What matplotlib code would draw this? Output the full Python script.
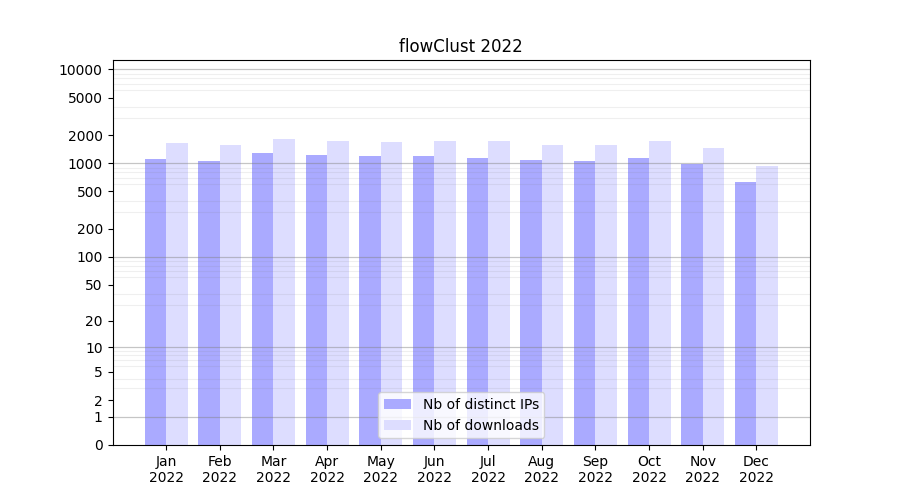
import numpy as np
import matplotlib
matplotlib.use("Agg")
import matplotlib.pyplot as plt

# ── Data ──────────────────────────────────────────────────────────────────
months = ["Jan", "Feb", "Mar", "Apr", "May", "Jun",
          "Jul", "Aug", "Sep", "Oct", "Nov", "Dec"]
year = 2022
nb_ips = [1112, 1058, 1290, 1228, 1198, 1198, 1140, 1085, 1058, 1140, 990, 629]
nb_downloads = [1653, 1574, 1824, 1737, 1694, 1737, 1737, 1574, 1574, 1737, 1460, 936]
ytick_vals = [0, 1, 2, 5, 10, 20, 50, 100, 200, 500, 1000, 2000, 5000, 10000]


def fwd(x):
    x = np.asarray(x, dtype=float)
    with np.errstate(invalid="ignore", divide="ignore"):
        return np.log10(np.clip(x, -0.999999, None) + 1)


def inv(y):
    return 10 ** np.asarray(y, dtype=float) - 1


fig, ax = plt.subplots(figsize=(9, 5), dpi=100)

x = np.arange(1, len(months) + 1)
w = 0.4
ax.bar(x - w / 2, nb_ips, width=w, color="#aaaaff", label="Nb of distinct IPs")
ax.bar(x + w / 2, nb_downloads, width=w, color="#ddddff", label="Nb of downloads")

ax.set_yscale("function", functions=(fwd, inv))
ax.set_xlim(0, 13)
ax.set_ylim(0, 10 ** 4.1 - 1)

ax.set_yticks(ytick_vals)
ax.set_yticklabels([str(v) for v in ytick_vals])
minor = [m * 10 ** d for d in range(4) for m in range(2, 10)]
ax.set_yticks(minor, minor=True)
ax.tick_params(axis="y", which="minor", length=0)
ax.grid(True, which="minor", axis="y", color="gray", alpha=0.12, linewidth=0.8)
for d in [1, 10, 100, 1000, 10000]:
    ax.axhline(d, color="gray", alpha=0.45, linewidth=0.9, zorder=2.5)

ax.set_xticks(x)
ax.set_xticklabels([f"{m}\n{year}" for m in months])
ax.set_title(f"flowClust {year}")
ax.legend(loc="lower center")

fig.savefig("out.png", dpi=100)
